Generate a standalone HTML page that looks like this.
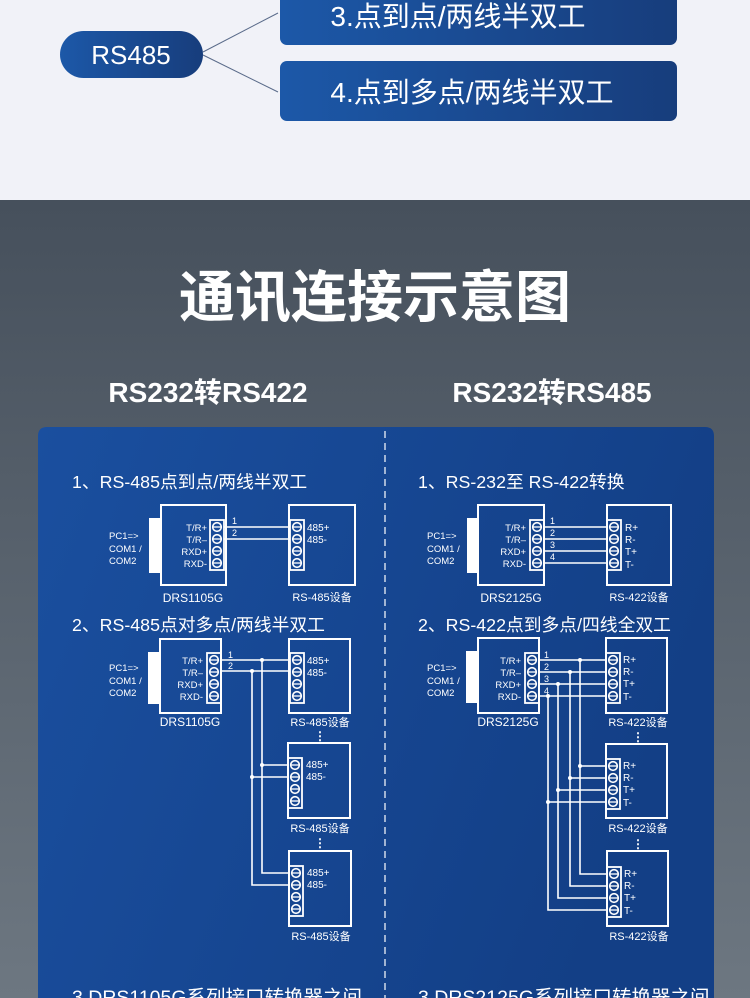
<!DOCTYPE html>
<html><head><meta charset="utf-8"><style>
html,body{margin:0;padding:0;width:750px;height:998px;overflow:hidden;background:#f1f2f8}
svg{display:block}
text{font-family:"Liberation Sans","Noto Sans CJK SC",sans-serif;fill:#fff}
</style></head><body>
<svg width="750" height="998" viewBox="0 0 750 998" xmlns="http://www.w3.org/2000/svg">
<defs>
<linearGradient id="bg" x1="0" y1="0" x2="0" y2="1"><stop offset="0" stop-color="#46505c"/><stop offset="1" stop-color="#6d7781"/></linearGradient>
<linearGradient id="pan" x1="0" y1="0" x2="1" y2="0.3"><stop offset="0" stop-color="#1a4f9f"/><stop offset="1" stop-color="#133f86"/></linearGradient>
<linearGradient id="btn" x1="0" y1="0" x2="1" y2="0"><stop offset="0" stop-color="#1c58a8"/><stop offset="1" stop-color="#173d7c"/></linearGradient>
<g id="strip"><rect x="0" y="0" width="14" height="50" fill="none" stroke="#fff" stroke-width="1.8"/>
<g fill="none" stroke="#fff" stroke-width="1.6"><circle cx="7" cy="7" r="4.3"/><circle cx="7" cy="19" r="4.3"/><circle cx="7" cy="31" r="4.3"/><circle cx="7" cy="43" r="4.3"/></g>
<g stroke="#fff" stroke-width="1.3"><line x1="3.5" y1="7" x2="10.5" y2="7"/><line x1="3.5" y1="19" x2="10.5" y2="19"/><line x1="3.5" y1="31" x2="10.5" y2="31"/><line x1="3.5" y1="43" x2="10.5" y2="43"/></g></g>
</defs>
<rect x="0" y="0" width="750" height="200" fill="#f1f2f8"/>
<rect x="0" y="200" width="750" height="798" fill="url(#bg)"/>
<!-- top -->
<line x1="203" y1="52" x2="278" y2="13" stroke="#5a6b8a" stroke-width="1"/>
<line x1="203" y1="55" x2="278" y2="92" stroke="#5a6b8a" stroke-width="1"/>
<rect x="60" y="31" width="143" height="47" rx="23.5" fill="url(#btn)"/>
<text x="131" y="64" font-size="26" text-anchor="middle">RS485</text>
<rect x="280" y="-10" width="397" height="55" rx="7" fill="url(#btn)"/>
<text x="458" y="26" font-size="28" text-anchor="middle">3.点到点/两线半双工</text>
<rect x="280" y="61" width="397" height="60" rx="7" fill="url(#btn)"/>
<text x="472" y="102" font-size="28" text-anchor="middle">4.点到多点/两线半双工</text>
<!-- titles -->
<text x="375" y="317" font-size="56" font-weight="bold" text-anchor="middle">通讯连接示意图</text>
<text x="208" y="402" font-size="28" font-weight="bold" text-anchor="middle">RS232转RS422</text>
<text x="552" y="402" font-size="28" font-weight="bold" text-anchor="middle">RS232转RS485</text>
<!-- panel -->
<path d="M38 436 Q38 427 47 427 L705 427 Q714 427 714 436 L714 998 L38 998 Z" fill="url(#pan)"/>
<line x1="385" y1="431" x2="385" y2="998" stroke="#fff" stroke-width="1.2" stroke-dasharray="7,5"/>
<text x="72" y="488" font-size="17.8">1、RS-485点到点/两线半双工</text>
<text x="418" y="488" font-size="17.8">1、RS-232至 RS-422转换</text>
<text x="72" y="631" font-size="17.8">2、RS-485点对多点/两线半双工</text>
<text x="418" y="631" font-size="17.8">2、RS-422点到多点/四线全双工</text>
<text x="72" y="1004" font-size="19.5">3.DRS1105G系列接口转换器之间</text>
<text x="418" y="1004" font-size="19.5">3.DRS2125G系列接口转换器之间</text>

<g font-size="9.5">
<!-- Left diag 1 -->
<rect x="149" y="518" width="12" height="55" fill="#fff"/>
<rect x="161" y="505" width="65" height="80" fill="none" stroke="#fff" stroke-width="2"/>
<use href="#strip" x="210" y="520"/>
<text x="207" y="531" text-anchor="end">T/R+</text><text x="207" y="543" text-anchor="end">T/R–</text><text x="207" y="555" text-anchor="end">RXD+</text><text x="207" y="567" text-anchor="end">RXD-</text>
<text x="109" y="539">PC1=&gt;</text><text x="109" y="552">COM1 /</text><text x="109" y="564">COM2</text>
<rect x="289" y="505" width="66" height="80" fill="none" stroke="#fff" stroke-width="2"/>
<use href="#strip" x="290" y="520"/>
<text x="307" y="531" font-size="10">485+</text><text x="307" y="543" font-size="10">485-</text>
<g stroke="#fff" stroke-width="1.6"><line x1="224" y1="527" x2="290" y2="527"/><line x1="224" y1="539" x2="290" y2="539"/></g>
<text x="232" y="524" font-size="9">1</text><text x="232" y="536" font-size="9">2</text>
<text x="193" y="602" font-size="12" text-anchor="middle">DRS1105G</text>
<text x="322" y="601" font-size="11" text-anchor="middle">RS-485设备</text>

<!-- Left diag 2 -->
<rect x="148" y="652" width="12" height="52" fill="#fff"/>
<rect x="160" y="639" width="61" height="74" fill="none" stroke="#fff" stroke-width="2"/>
<use href="#strip" x="207" y="653"/>
<text x="203" y="664" text-anchor="end">T/R+</text><text x="203" y="676" text-anchor="end">T/R–</text><text x="203" y="688" text-anchor="end">RXD+</text><text x="203" y="700" text-anchor="end">RXD-</text>
<text x="109" y="671">PC1=&gt;</text><text x="109" y="684">COM1 /</text><text x="109" y="696">COM2</text>
<text x="190" y="726" font-size="12" text-anchor="middle">DRS1105G</text>
<rect x="289" y="639" width="61" height="74" fill="none" stroke="#fff" stroke-width="2"/>
<use href="#strip" x="290" y="653"/>
<text x="307" y="664" font-size="10">485+</text><text x="307" y="676" font-size="10">485-</text>
<text x="320" y="726" font-size="11" text-anchor="middle">RS-485设备</text>
<text x="320" y="740" font-size="12" text-anchor="middle" font-weight="bold">⋮</text>
<rect x="288" y="743" width="62" height="75" fill="none" stroke="#fff" stroke-width="2"/>
<use href="#strip" x="288" y="758"/>
<text x="306" y="768" font-size="10">485+</text><text x="306" y="780" font-size="10">485-</text>
<text x="320" y="832" font-size="11" text-anchor="middle">RS-485设备</text>
<text x="320" y="847" font-size="12" text-anchor="middle" font-weight="bold">⋮</text>
<rect x="289" y="851" width="62" height="75" fill="none" stroke="#fff" stroke-width="2"/>
<use href="#strip" x="289" y="866"/>
<text x="307" y="876" font-size="10">485+</text><text x="307" y="888" font-size="10">485-</text>
<text x="321" y="940" font-size="11" text-anchor="middle">RS-485设备</text>
<g stroke="#fff" stroke-width="1.6" fill="none">
<line x1="221" y1="660" x2="290" y2="660"/><line x1="221" y1="671" x2="290" y2="671"/>
<polyline points="262,660 262,873 289,873"/><polyline points="252,671 252,885 289,885"/>
<line x1="262" y1="765" x2="288" y2="765"/><line x1="252" y1="777" x2="288" y2="777"/>
</g>
<g fill="#fff"><circle cx="262" cy="660" r="2"/><circle cx="252" cy="671" r="2"/><circle cx="262" cy="765" r="2"/><circle cx="252" cy="777" r="2"/></g>
<text x="228" y="658" font-size="9">1</text><text x="228" y="669" font-size="9">2</text>

<!-- Right diag 1 -->
<rect x="467" y="518" width="11" height="55" fill="#fff"/>
<rect x="478" y="505" width="66" height="80" fill="none" stroke="#fff" stroke-width="2"/>
<use href="#strip" x="530" y="520"/>
<text x="526" y="531" text-anchor="end">T/R+</text><text x="526" y="543" text-anchor="end">T/R–</text><text x="526" y="555" text-anchor="end">RXD+</text><text x="526" y="567" text-anchor="end">RXD-</text>
<text x="427" y="539">PC1=&gt;</text><text x="427" y="552">COM1 /</text><text x="427" y="564">COM2</text>
<rect x="607" y="505" width="64" height="80" fill="none" stroke="#fff" stroke-width="2"/>
<use href="#strip" x="607" y="520"/>
<text x="625" y="531" font-size="10">R+</text><text x="625" y="543" font-size="10">R-</text><text x="625" y="555" font-size="10">T+</text><text x="625" y="568" font-size="10">T-</text>
<g stroke="#fff" stroke-width="1.6"><line x1="544" y1="527" x2="607" y2="527"/><line x1="544" y1="539" x2="607" y2="539"/><line x1="544" y1="551" x2="607" y2="551"/><line x1="544" y1="563" x2="607" y2="563"/></g>
<text x="550" y="524" font-size="9">1</text><text x="550" y="536" font-size="9">2</text><text x="550" y="548" font-size="9">3</text><text x="550" y="560" font-size="9">4</text>
<text x="511" y="602" font-size="12" text-anchor="middle">DRS2125G</text>
<text x="639" y="601" font-size="11" text-anchor="middle">RS-422设备</text>

<!-- Right diag 2 -->
<rect x="466" y="651" width="12" height="52" fill="#fff"/>
<rect x="478" y="638" width="61" height="75" fill="none" stroke="#fff" stroke-width="2"/>
<use href="#strip" x="525" y="653"/>
<text x="521" y="664" text-anchor="end">T/R+</text><text x="521" y="676" text-anchor="end">T/R–</text><text x="521" y="688" text-anchor="end">RXD+</text><text x="521" y="700" text-anchor="end">RXD-</text>
<text x="427" y="671">PC1=&gt;</text><text x="427" y="684">COM1 /</text><text x="427" y="696">COM2</text>
<text x="508" y="726" font-size="12" text-anchor="middle">DRS2125G</text>
<rect x="606" y="638" width="61" height="75" fill="none" stroke="#fff" stroke-width="2"/>
<use href="#strip" x="606" y="653"/>
<text x="623" y="663" font-size="10">R+</text><text x="623" y="675" font-size="10">R-</text><text x="623" y="687" font-size="10">T+</text><text x="623" y="700" font-size="10">T-</text>
<text x="638" y="726" font-size="11" text-anchor="middle">RS-422设备</text>
<text x="638" y="741" font-size="12" text-anchor="middle" font-weight="bold">⋮</text>
<rect x="606" y="744" width="61" height="74" fill="none" stroke="#fff" stroke-width="2"/>
<use href="#strip" x="606" y="759"/>
<text x="623" y="769" font-size="10">R+</text><text x="623" y="781" font-size="10">R-</text><text x="623" y="793" font-size="10">T+</text><text x="623" y="806" font-size="10">T-</text>
<text x="638" y="832" font-size="11" text-anchor="middle">RS-422设备</text>
<text x="638" y="848" font-size="12" text-anchor="middle" font-weight="bold">⋮</text>
<rect x="607" y="851" width="61" height="75" fill="none" stroke="#fff" stroke-width="2"/>
<use href="#strip" x="607" y="867"/>
<text x="624" y="877" font-size="10">R+</text><text x="624" y="889" font-size="10">R-</text><text x="624" y="901" font-size="10">T+</text><text x="624" y="914" font-size="10">T-</text>
<text x="639" y="940" font-size="11" text-anchor="middle">RS-422设备</text>
<g stroke="#fff" stroke-width="1.6" fill="none">
<line x1="539" y1="660" x2="606" y2="660"/><line x1="539" y1="672" x2="606" y2="672"/><line x1="539" y1="684" x2="606" y2="684"/><line x1="539" y1="696" x2="606" y2="696"/>
<polyline points="580,660 580,874 607,874"/><polyline points="570,672 570,886 607,886"/><polyline points="558,684 558,898 607,898"/><polyline points="548,696 548,910 607,910"/>
<line x1="580" y1="766" x2="606" y2="766"/><line x1="570" y1="778" x2="606" y2="778"/><line x1="558" y1="790" x2="606" y2="790"/><line x1="548" y1="802" x2="606" y2="802"/>
</g>
<g fill="#fff"><circle cx="580" cy="660" r="2"/><circle cx="570" cy="672" r="2"/><circle cx="558" cy="684" r="2"/><circle cx="548" cy="696" r="2"/>
<circle cx="580" cy="766" r="2"/><circle cx="570" cy="778" r="2"/><circle cx="558" cy="790" r="2"/><circle cx="548" cy="802" r="2"/></g>
<text x="544" y="658" font-size="9">1</text><text x="544" y="670" font-size="9">2</text><text x="544" y="682" font-size="9">3</text><text x="544" y="694" font-size="9">4</text>
</g>
</svg>
</body></html>
